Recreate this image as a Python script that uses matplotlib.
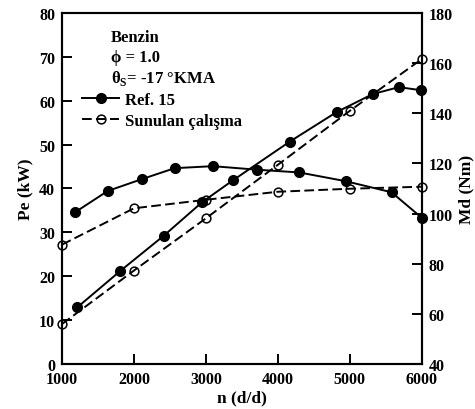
import matplotlib
matplotlib.use("Agg")
import matplotlib.pyplot as plt
from matplotlib.lines import Line2D

plt.rcParams['font.family'] = ['Liberation Serif', 'DejaVu Serif']
plt.rcParams['font.weight'] = 'bold'
plt.rcParams['mathtext.fontset'] = 'custom'
plt.rcParams['mathtext.rm'] = 'Liberation Serif:bold'

# Ref. 15 - power (left axis)
ref_pe_n = [1212, 1810, 2412, 2949, 3379, 4167, 4815, 5315, 5681, 5986]
ref_pe = [12.9, 21.2, 29.2, 36.9, 41.9, 50.7, 57.4, 61.5, 63.1, 62.4]
# Ref. 15 - torque (right axis)
ref_md_n = [1181, 1635, 2107, 2565, 3097, 3704, 4296, 4944, 5579, 5996]
ref_md = [100.5, 109.0, 113.7, 118.1, 118.9, 117.5, 116.4, 112.9, 108.5, 98.4]
# Sunulan calisma
sun_n = [1000, 2000, 3000, 4000, 5000, 6000]
sun_pe = [9.1, 21.3, 33.2, 45.4, 57.7, 69.5]
sun_md = [87.6, 102.1, 105.5, 108.7, 109.9, 110.7]

x_ticks = [1000, 2000, 3000, 4000, 5000, 6000]
pe_ticks = [0, 10, 20, 30, 40, 50, 60, 70, 80]
md_ticks = [40, 60, 80, 100, 120, 140, 160, 180]

fig = plt.figure(figsize=(4.75, 4.1), dpi=100)
ax = fig.add_axes([0.1305, 0.1098, 0.7575, 0.8561])
ax2 = ax.twinx()

lw = 1.4
solid = dict(color='black', lw=lw, marker='o', ms=7, mfc='black', mec='black')
dashed = dict(color='black', lw=lw, ls=(0, (5, 2.2)), marker='o', ms=6.3, mfc='none',
              mec='black', mew=1.1)

ax.plot(ref_pe_n, ref_pe, **solid, clip_on=False)
ax.plot(sun_n, sun_pe, **dashed, clip_on=False)
ax2.plot(ref_md_n, ref_md, **solid, clip_on=False)
ax2.plot(sun_n, sun_md, **dashed, clip_on=False)

ax.set_xlim(1000, 6000)
ax.set_ylim(0, 80)
ax2.set_ylim(40, 180)
ax.set_xticks(x_ticks)
ax.set_yticks(pe_ticks)
ax2.set_yticks(md_ticks)

for a in (ax, ax2):
    for s in a.spines.values():
        s.set_linewidth(1.5)
ax.tick_params(axis='both', direction='in', length=7, width=1.4, labelsize=11.5,
               top=False, right=False, pad=5)
ax2.tick_params(axis='y', direction='in', length=7, width=1.4, labelsize=11.5, pad=5)

ax.set_xlabel('n (d/d)', fontsize=12.5, fontweight='bold', labelpad=2)
ax.set_ylabel('Pe (kW)', fontsize=12.5, fontweight='bold', labelpad=4)
ax2.set_ylabel('Md (Nm)', fontsize=12.5, fontweight='bold', rotation=90, labelpad=4)

ax.text(1680, 74.6, 'Benzin', fontsize=12, fontweight='bold', va='center')
ax.text(1680, 70.0, '\u03d5 = 1.0', fontsize=12, fontweight='bold', va='center')
ax.text(1680, 65.4, '\u03b8$_\\mathrm{S}$= -17 \u00b0KMA',
        fontsize=12, fontweight='bold', va='center')

handles = [Line2D([], [], **solid), Line2D([], [], **dashed)]
ax2.legend(handles, ['Ref. 15', 'Sunulan çalışma'], loc='upper left',
           bbox_to_anchor=(0.057, 0.776), frameon=False, fontsize=12,
           handlelength=2.2, handletextpad=0.35, labelspacing=0.3,
           borderaxespad=0, borderpad=0)

fig.savefig('out.png', dpi=100)
